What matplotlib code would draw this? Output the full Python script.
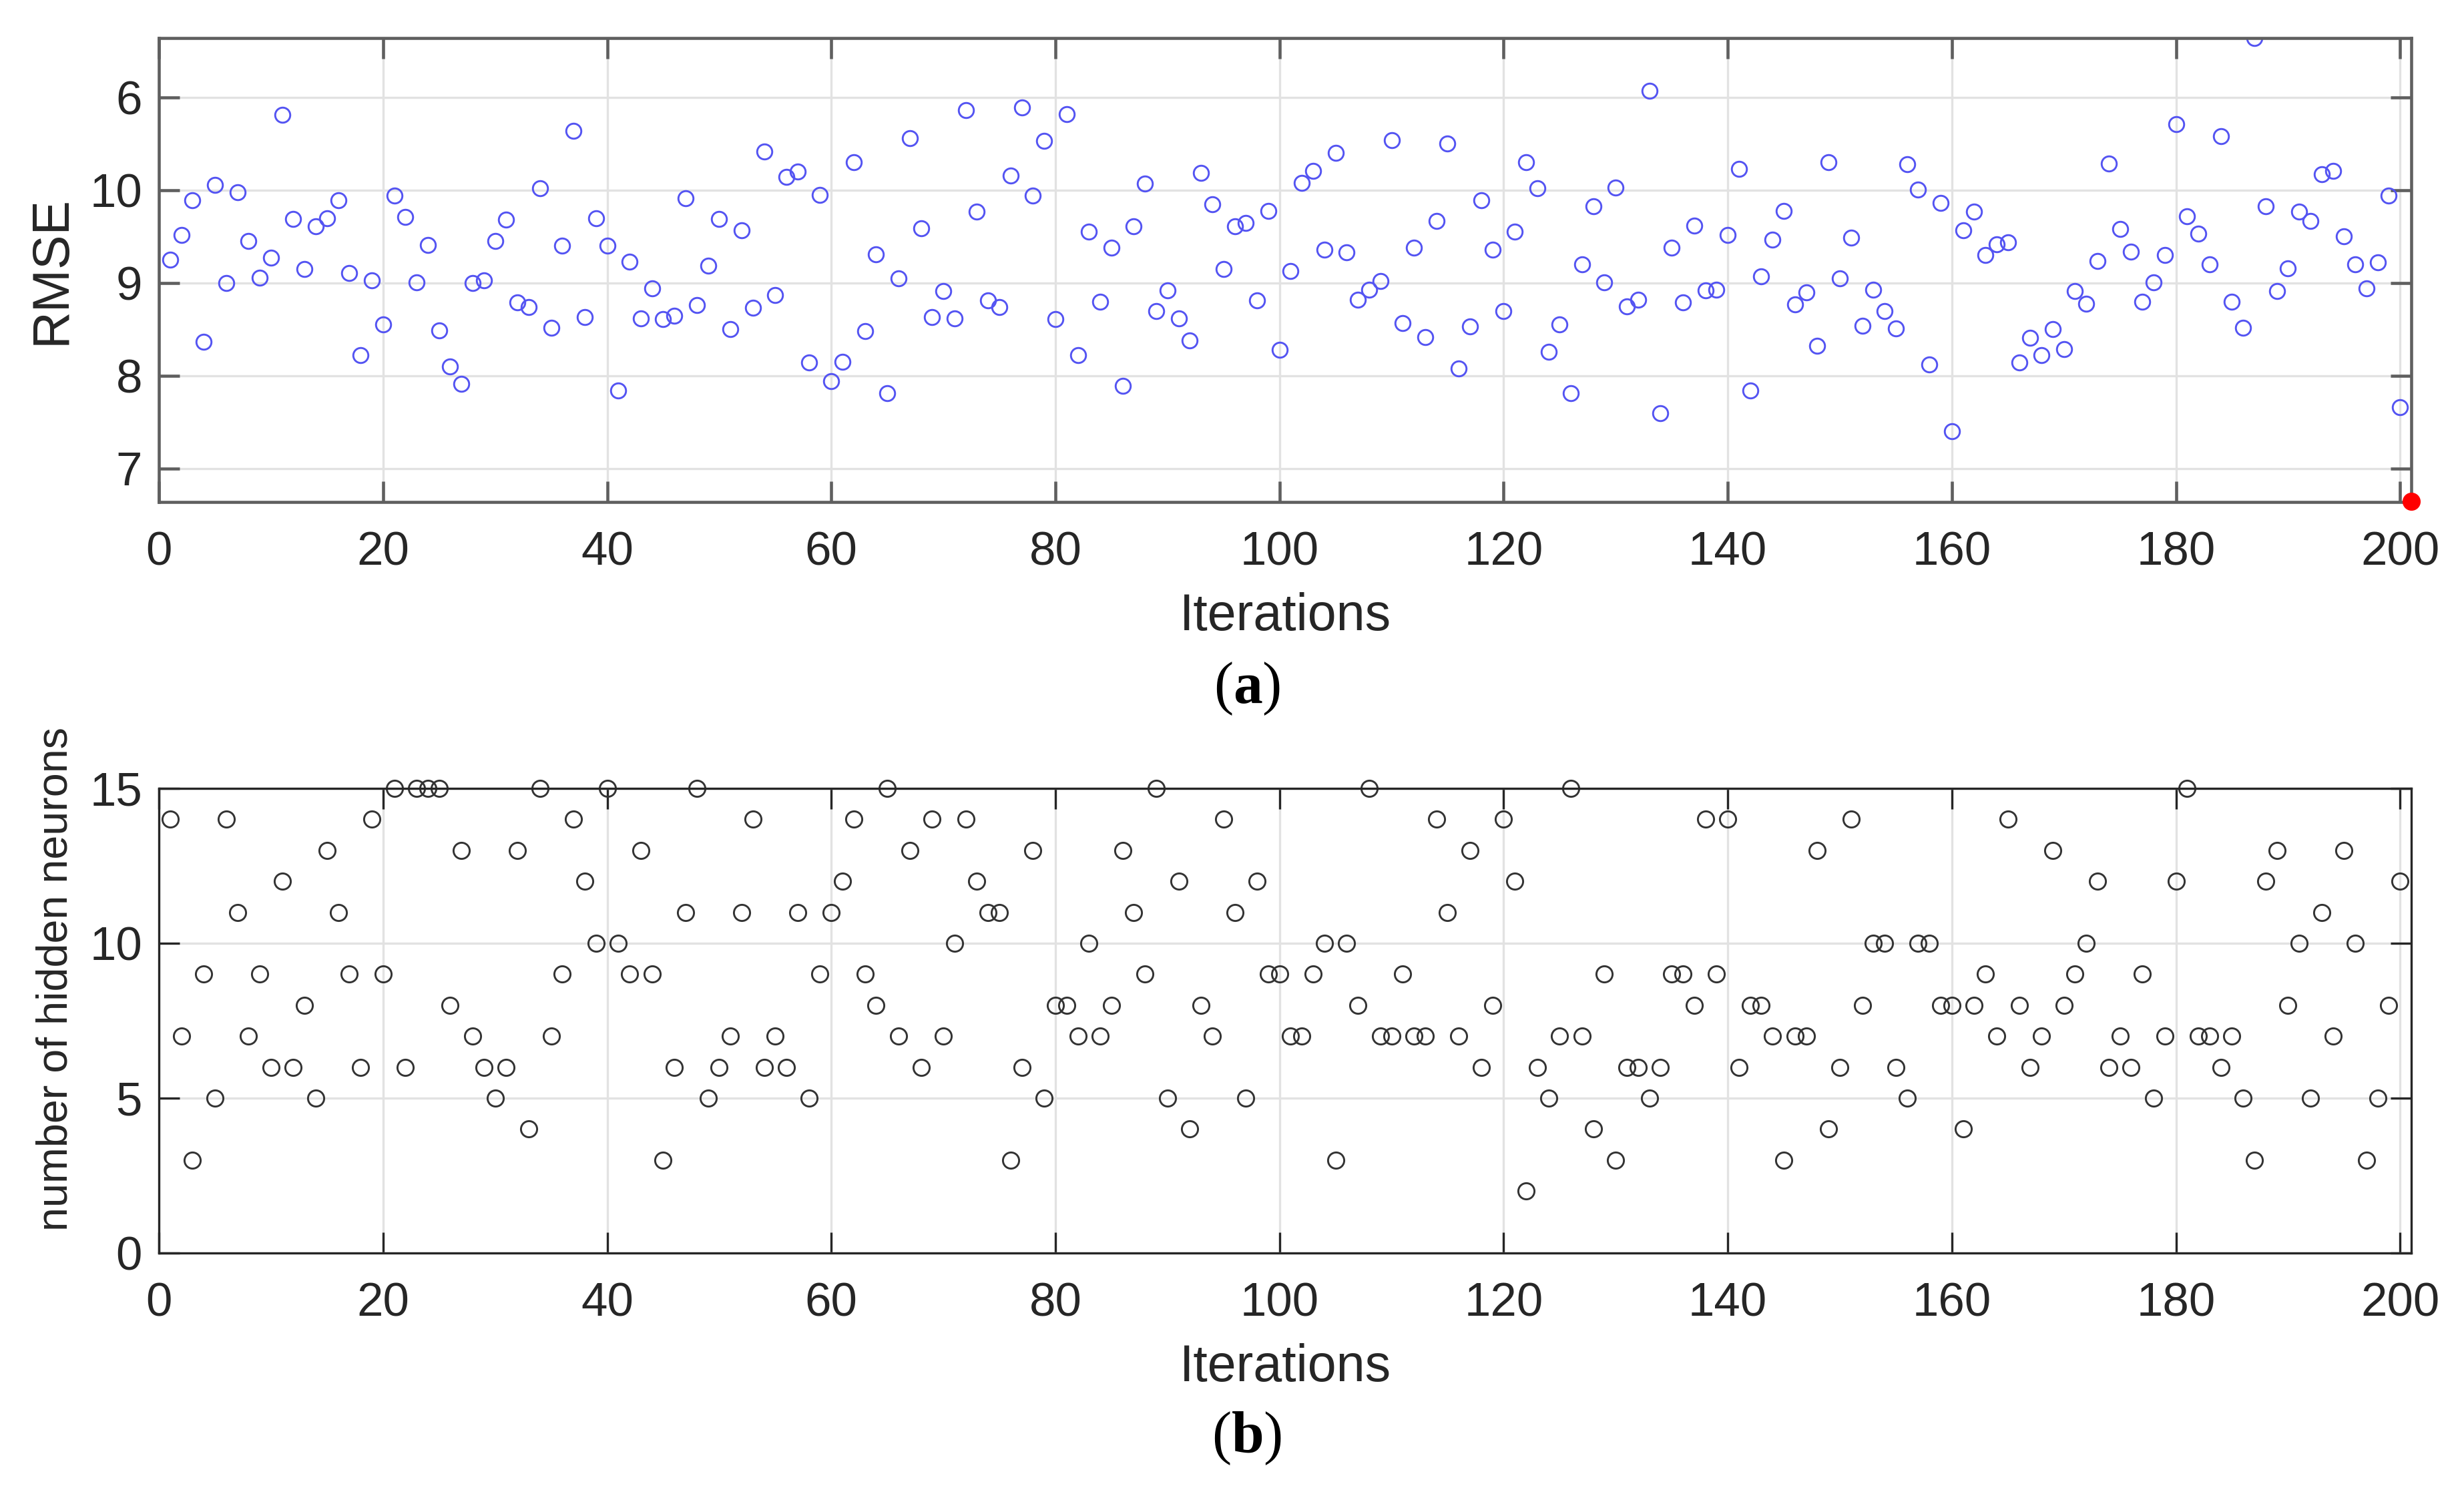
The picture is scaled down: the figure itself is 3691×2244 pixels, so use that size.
import numpy as np
import matplotlib
matplotlib.use("Agg")
import matplotlib.pyplot as plt

plt.rcParams['font.family'] = ['Liberation Sans', 'DejaVu Sans']
plt.rcParams['mathtext.fontset'] = 'custom'
plt.rcParams['mathtext.rm'] = 'Liberation Serif'
plt.rcParams['mathtext.bf'] = 'Liberation Serif:bold'

# RMSE per iteration (panel a)
rmse = [
    9.25, 9.52, 9.89, 8.37, 10.06, 9.00, 9.98, 9.45, 9.06, 9.27,
    10.81, 9.69, 9.15, 9.61, 9.70, 9.89, 9.11, 8.22, 9.03, 8.55,
    9.94, 9.71, 9.01, 9.41, 8.49, 8.10, 7.91, 9.00, 9.03, 9.45,
    9.68, 8.79, 8.74, 10.02, 8.52, 9.40, 10.64, 8.63, 9.70, 9.40,
    7.84, 9.23, 8.62, 8.94, 8.61, 8.65, 9.91, 8.76, 9.19, 9.69,
    8.50, 9.57, 8.73, 10.42, 8.87, 10.14, 10.20, 8.14, 9.95, 7.94,
    8.15, 10.30, 8.48, 9.31, 7.81, 9.05, 10.56, 9.59, 8.63, 8.91,
    8.62, 10.86, 9.77, 8.81, 8.74, 10.16, 10.89, 9.94, 10.53, 8.61,
    10.82, 8.22, 9.55, 8.80, 9.38, 7.89, 9.61, 10.07, 8.70, 8.92,
    8.62, 8.38, 10.19, 9.85, 9.15, 9.61, 9.65, 8.81, 9.78, 8.28,
    9.13, 10.08, 10.21, 9.36, 10.40, 9.33, 8.82, 8.93, 9.02, 10.54,
    8.57, 9.38, 8.42, 9.67, 10.50, 8.08, 8.53, 9.89, 9.36, 8.70,
    9.55, 10.30, 10.02, 8.26, 8.55, 7.81, 9.20, 9.83, 9.01, 10.03,
    8.75, 8.82, 11.07, 7.60, 9.38, 8.79, 9.62, 8.92, 8.93, 9.52,
    10.23, 7.84, 9.07, 9.47, 9.78, 8.77, 8.90, 8.32, 10.30, 9.05,
    9.49, 8.54, 8.93, 8.70, 8.51, 10.28, 10.01, 8.12, 9.86, 7.40,
    9.57, 9.77, 9.30, 9.42, 9.44, 8.14, 8.41, 8.22, 8.50, 8.29,
    8.91, 8.78, 9.24, 10.29, 9.58, 9.34, 8.80, 9.01, 9.30, 10.71,
    9.72, 9.53, 9.20, 10.58, 8.80, 8.52, 11.64, 9.83, 8.91, 9.16,
    9.77, 9.67, 10.17, 10.21, 9.50, 9.20, 8.94, 9.22, 9.94, 7.66,
]

# number of hidden neurons per iteration (panel b)
neurons = [
    14, 7, 3, 9, 5, 14, 11, 7, 9, 6,
    12, 6, 8, 5, 13, 11, 9, 6, 14, 9,
    15, 6, 15, 15, 15, 8, 13, 7, 6, 5,
    6, 13, 4, 15, 7, 9, 14, 12, 10, 15,
    10, 9, 13, 9, 3, 6, 11, 15, 5, 6,
    7, 11, 14, 6, 7, 6, 11, 5, 9, 11,
    12, 14, 9, 8, 15, 7, 13, 6, 14, 7,
    10, 14, 12, 11, 11, 3, 6, 13, 5, 8,
    8, 7, 10, 7, 8, 13, 11, 9, 15, 5,
    12, 4, 8, 7, 14, 11, 5, 12, 9, 9,
    7, 7, 9, 10, 3, 10, 8, 15, 7, 7,
    9, 7, 7, 14, 11, 7, 13, 6, 8, 14,
    12, 2, 6, 5, 7, 15, 7, 4, 9, 3,
    6, 6, 5, 6, 9, 9, 8, 14, 9, 14,
    6, 8, 8, 7, 3, 7, 7, 13, 4, 6,
    14, 8, 10, 10, 6, 5, 10, 10, 8, 8,
    4, 8, 9, 7, 14, 8, 6, 7, 13, 8,
    9, 10, 12, 6, 7, 6, 9, 5, 7, 12,
    15, 7, 7, 6, 7, 5, 3, 12, 13, 8,
    10, 5, 11, 7, 13, 10, 3, 5, 8, 12,
]

iters = np.arange(1, len(rmse) + 1)

# best point marker (red)
best_iter = [201]
best_rmse = [6.65]

xticks = list(range(0, 201, 20))
rmse_ticks = [7, 8, 9, 10, 11]
rmse_ticklabels = ['7', '8', '9', '10', '6']
neuron_ticks = [0, 5, 10, 15]

fig = plt.figure(figsize=(3691 / 300, 2244 / 300), dpi=300)
ax1 = fig.add_axes([0.0645, 0.6649, 0.9141, 0.3097])
ax2 = fig.add_axes([0.0645, 0.1635, 0.9141, 0.3102])


def style_axes(ax, edge, lw):
    for s in ax.spines.values():
        s.set_color(edge)
        s.set_linewidth(lw)
    ax.tick_params(direction='in', length=7.5, width=lw, colors=edge,
                   top=True, right=True, labelsize=17, labelcolor='#262626')
    ax.tick_params(axis='x', pad=10.5)
    ax.tick_params(axis='y', pad=6)
    ax.grid(True, color='#e2e2e2', linewidth=0.8)
    ax.set_axisbelow(True)


# (a) RMSE
ax1.plot(iters, rmse, 'o', mfc='none', mec=(0.33, 0.33, 0.95),
         ms=5.4, mew=0.7, ls='none')
ax1.plot(best_iter, best_rmse, 'o', color='red', ms=5.5, clip_on=False,
         zorder=5)
ax1.set_xlim(0, 201)
ax1.set_ylim(6.64, 11.64)
ax1.set_xticks(xticks)
ax1.set_yticks(rmse_ticks)
ax1.set_yticklabels(rmse_ticklabels)
style_axes(ax1, '#5f5f5f', 1.1)
ax1.set_xlabel('Iterations', fontsize=18.5, color='#262626', labelpad=6)
ax1.set_ylabel('RMSE', fontsize=18.5, color='#262626', labelpad=5)

# (b) number of hidden neurons
ax2.plot(iters, neurons, 'o', mfc='none', mec='#333333',
         ms=5.8, mew=0.7, ls='none', clip_on=False)
ax2.set_xlim(0, 201)
ax2.set_ylim(0, 15)
ax2.set_xticks(xticks)
ax2.set_yticks(neuron_ticks)
style_axes(ax2, '#262626', 0.8)
ax2.set_xlabel('Iterations', fontsize=18.5, color='#262626', labelpad=6)
ax2.set_ylabel('number of hidden neurons', fontsize=15.5, color='#262626')
ax2.yaxis.set_label_coords(-0.037, 0.59)

fig.text(0.506, 0.5405, r'($\mathbf{a}$)', ha='center', va='center',
         fontsize=21, family=['Liberation Serif', 'DejaVu Serif'])
fig.text(0.506, 0.040, r'($\mathbf{b}$)', ha='center', va='center',
         fontsize=21, family=['Liberation Serif', 'DejaVu Serif'])

fig.savefig('out.png', dpi=300)
